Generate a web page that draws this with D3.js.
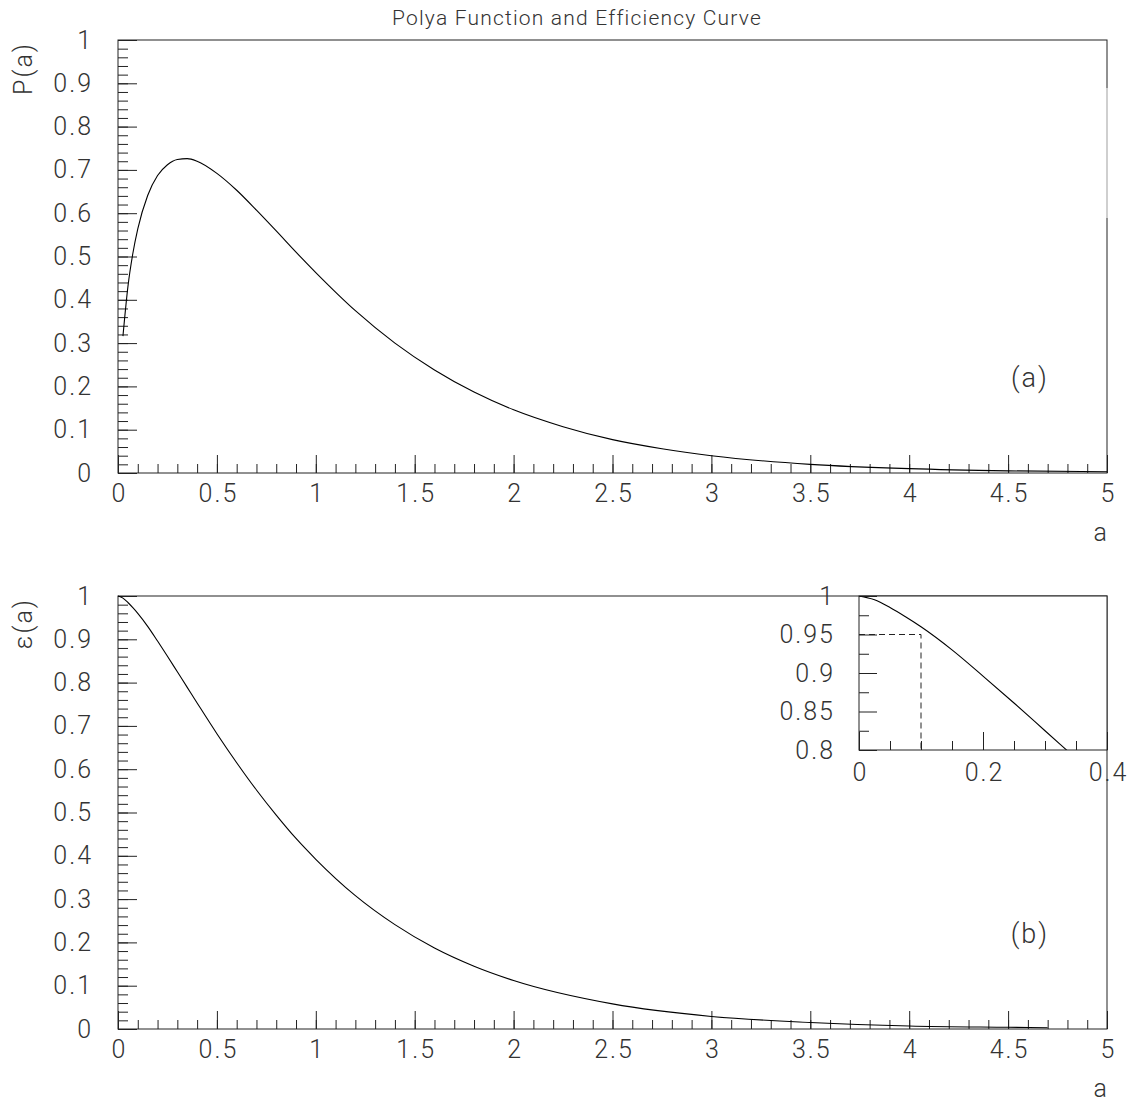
<!DOCTYPE html>
<html>
<head>
<meta charset="utf-8">
<script src="https://cdn.jsdelivr.net/npm/d3@7"></script>
<style>
  body { margin: 0; background: #fff; }
  text { font-family: Roboto, "Open Sans", sans-serif; font-weight: 300; fill: #333; }
</style>
</head>
<body>
<div id="chart"></div>
<script>
// values
var aPolya = [0.025,0.05,0.075,0.1,0.15,0.2,0.25,0.3,0.35,0.4,0.5,0.6,0.7,0.8,0.9,1.0,1.2,1.4,1.6,1.8,2.0,2.25,2.5,2.75,3.0,3.5,4.0,4.5,5.0];
var polya = [0.316,0.430,0.507,0.564,0.641,0.687,0.712,0.724,0.726,0.720,0.692,0.653,0.607,0.559,0.510,0.463,0.375,0.300,0.238,0.187,0.146,0.107,0.077,0.056,0.040,0.020,0.010,0.005,0.003];

var aEff = [0,0.025,0.05,0.075,0.1,0.15,0.2,0.25,0.3,0.35,0.4,0.5,0.6,0.7,0.8,0.9,1.0,1.2,1.4,1.6,1.8,2.0,2.5,3.0,3.5,4.0,4.5,4.7];
var eff = [1,0.995,0.985,0.973,0.960,0.930,0.896,0.861,0.825,0.789,0.753,0.682,0.615,0.552,0.494,0.440,0.392,0.308,0.241,0.187,0.145,0.112,0.058,0.029,0.015,0.007,0.004,0.003];

var xMajor = d3.range(0, 5.001, 0.5);
var xMinor = d3.range(0, 5.001, 0.1);
var yMajor = d3.range(0, 1.001, 0.1);
var yMinor = d3.range(0, 1.001, 0.02);

var insetXMajor = [0, 0.2, 0.4];
var insetXMinor = [0.05, 0.1, 0.15, 0.25, 0.3, 0.35];
var insetYMajor = [0.8, 0.85, 0.9, 0.95, 1];
var insetYMinor = [0.825, 0.875, 0.925, 0.975];
var cutPoint = [0.1, 0.95]; // dashed marker in the inset

var title = "Polya Function and Efficiency Curve";

var W = 1129, H = 1104;
var svg = d3.select("#chart").append("svg")
    .attr("width", W).attr("height", H);

var fmt = function(d) { return d3.format("~g")(+d.toFixed(3)); };

svg.append("text")
    .attr("x", 577).attr("y", 25)
    .attr("text-anchor", "middle")
    .style("font-size", "21px")
    .style("letter-spacing", "1.2px")
    .text(title);

// restyle tick labels that d3's axis drew
function styleLabels(a) {
    a.selectAll("text").style("font-size", "25px").style("letter-spacing", "2px")
        .attr("font-family", null).attr("fill", null);
    a.attr("font-family", null).attr("font-size", null);
}

function drawPanel(top, bottom, yLabel, tag, pts, rightGap) {
    var x = d3.scaleLinear().domain([0, 5]).range([118, 1107]);
    var y = d3.scaleLinear().domain([0, 1]).range([bottom, top]);
    var g = svg.append("g");

    // minor ticks
    g.append("g").attr("transform", "translate(0," + bottom + ")")
        .call(d3.axisBottom(x).tickValues(xMinor).tickSize(-9).tickSizeOuter(0).tickFormat(""));
    g.append("g").attr("transform", "translate(118,0)")
        .call(d3.axisLeft(y).tickValues(yMinor).tickSize(-10).tickSizeOuter(0).tickFormat(""));
    // major ticks with labels
    var ax = g.append("g").attr("transform", "translate(0," + bottom + ")")
        .call(d3.axisBottom(x).tickValues(xMajor).tickSize(-18).tickSizeOuter(0).tickPadding(11).tickFormat(fmt));
    var ay = g.append("g").attr("transform", "translate(118,0)")
        .call(d3.axisLeft(y).tickValues(yMajor).tickSize(-19).tickSizeOuter(0).tickPadding(25).tickFormat(fmt));
    styleLabels(ax);
    styleLabels(ay);
    ax.selectAll("text").attr("dx", "1px");
    g.selectAll(".domain").remove();
    g.selectAll(".tick line").attr("stroke", "#222");

    // frame
    g.append("rect")
        .attr("x", 118).attr("y", top).attr("width", 1107 - 118).attr("height", bottom - top)
        .attr("fill", "none").attr("stroke", "#222");
    if (rightGap) {
        g.append("line").attr("x1", 1107).attr("x2", 1107)
            .attr("y1", rightGap[0]).attr("y2", rightGap[1])
            .attr("stroke", "#e4e4e4").attr("stroke-width", 1.5);
    }

    var line = d3.line()
        .x(function(d) { return x(d[0]); })
        .y(function(d) { return y(d[1]); })
        .curve(d3.curveMonotoneX);
    g.append("path").datum(pts)
        .attr("d", line).attr("fill", "none").attr("stroke", "#000").attr("stroke-width", 1.1);

    // axis titles
    g.append("text")
        .attr("transform", "translate(32," + (top + 2) + ") rotate(-90)")
        .attr("text-anchor", "end")
        .style("font-size", "25px")
        .style("letter-spacing", "2px")
        .text(yLabel);
    g.append("text")
        .attr("x", 1107).attr("y", bottom + 68)
        .attr("text-anchor", "end")
        .style("font-size", "25px")
        .text("a");
    g.append("text")
        .attr("x", x(4.61)).attr("y", y(0.22)).attr("dy", "0.35em")
        .attr("text-anchor", "middle")
        .style("font-size", "27px")
        .style("letter-spacing", "2px")
        .text(tag);
    return { x: x, y: y };
}

var ptsP = aPolya.map(function(a, i) { return [a, polya[i]]; });
var ptsE = aEff.map(function(a, i) { return [a, eff[i]]; });

drawPanel(40, 473, "P(a)", "(a)", ptsP, [88, 218]);
drawPanel(596, 1029, "\u03b5(a)", "(b)", ptsE, null);

// inset
var ix = d3.scaleLinear().domain([0, 0.4]).range([859, 1107]);
var iy = d3.scaleLinear().domain([0.8, 1]).range([750, 596]);
var inset = svg.append("g");
inset.append("rect").attr("x", 859).attr("y", 596).attr("width", 1107 - 859).attr("height", 750 - 596)
    .attr("fill", "#fff").attr("stroke", "none");

inset.append("clipPath").attr("id", "insetClip")
    .append("rect").attr("x", 859).attr("y", 596).attr("width", 1107 - 859).attr("height", 750 - 596);

inset.append("g").attr("transform", "translate(0,750)")
    .call(d3.axisBottom(ix).tickValues(insetXMinor).tickSize(-9).tickSizeOuter(0).tickFormat(""));
inset.append("g").attr("transform", "translate(859,0)")
    .call(d3.axisLeft(iy).tickValues(insetYMinor).tickSize(-10).tickSizeOuter(0).tickFormat(""));
var iax = inset.append("g").attr("transform", "translate(0,750)")
    .call(d3.axisBottom(ix).tickValues(insetXMajor).tickSize(-18).tickSizeOuter(0).tickPadding(13).tickFormat(fmt));
var iay = inset.append("g").attr("transform", "translate(859,0)")
    .call(d3.axisLeft(iy).tickValues(insetYMajor).tickSize(-18).tickSizeOuter(0).tickPadding(24).tickFormat(fmt));
styleLabels(iax);
styleLabels(iay);
iax.selectAll("text").attr("dx", "1px");
inset.selectAll(".domain").remove();
inset.selectAll(".tick line").attr("stroke", "#222");

inset.append("path")
    .datum([[0, cutPoint[1]], [cutPoint[0], cutPoint[1]], [cutPoint[0], 0.8]])
    .attr("d", d3.line().x(function(d) { return ix(d[0]); }).y(function(d) { return iy(d[1]); }))
    .attr("fill", "none").attr("stroke", "#222").attr("stroke-dasharray", "6,4");

inset.append("path")
    .datum(ptsE.filter(function(d) { return d[0] <= 0.4; }))
    .attr("clip-path", "url(#insetClip)")
    .attr("d", d3.line().x(function(d) { return ix(d[0]); }).y(function(d) { return iy(d[1]); }).curve(d3.curveMonotoneX))
    .attr("fill", "none").attr("stroke", "#000").attr("stroke-width", 1.1);

inset.append("rect").attr("x", 859).attr("y", 596).attr("width", 1107 - 859).attr("height", 750 - 596)
    .attr("fill", "none").attr("stroke", "#222");
</script>
</body>
</html>
